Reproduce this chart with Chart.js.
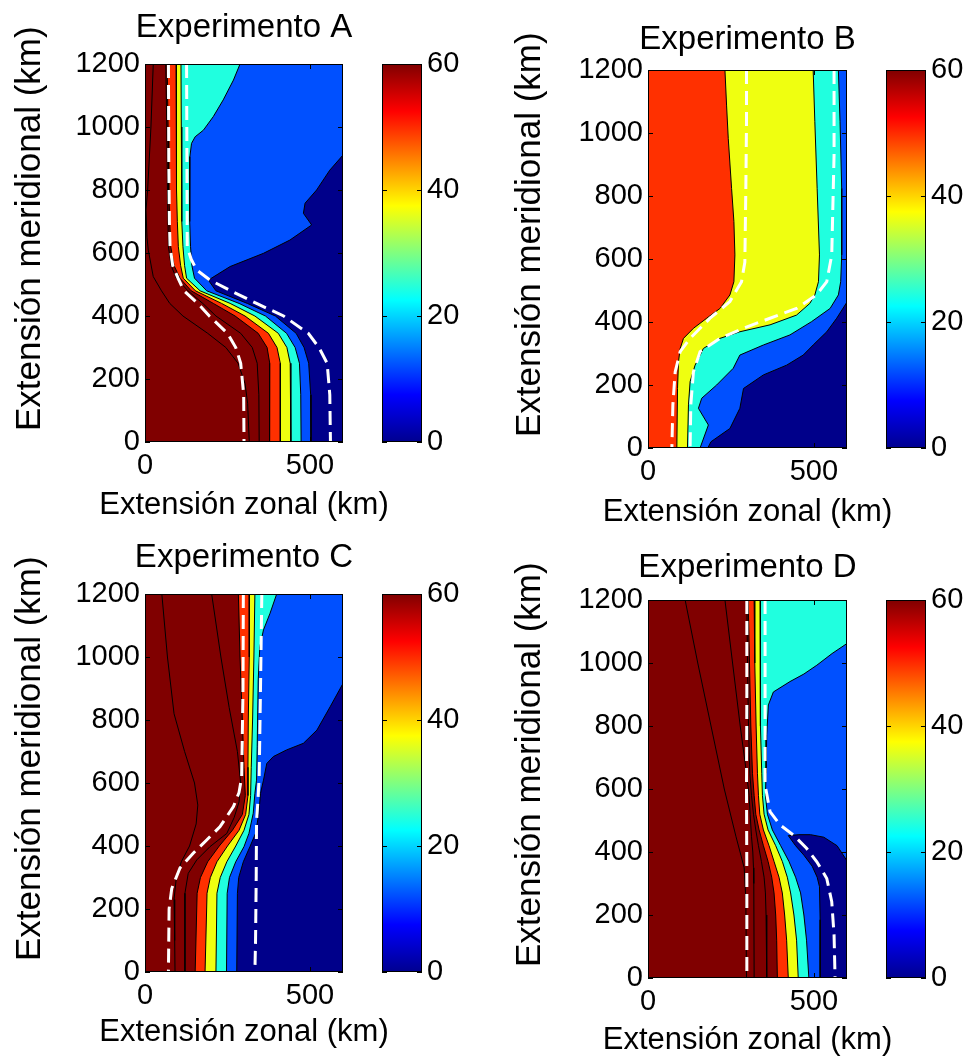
<!DOCTYPE html>
<html>
<head>
    <title>Experimentos A-D</title>
    <script src="https://cdn.jsdelivr.net/npm/chart.js"></script>
    <style>
        body { margin: 0; background: #fff; overflow: hidden; }
        canvas { position: absolute; }
    </style>
</head>
<body>

<canvas id="cA" width="488" height="528"></canvas>
<canvas id="bA" width="110" height="430"></canvas>
<canvas id="cB" width="495" height="535"></canvas>
<canvas id="bB" width="110" height="430"></canvas>
<canvas id="cC" width="488" height="535"></canvas>
<canvas id="bC" width="110" height="430"></canvas>
<canvas id="cD" width="495" height="537"></canvas>
<canvas id="bD" width="110" height="430"></canvas>

<script>
// tick values
var X_TICKS = [0, 500];
var Y_TICKS = [0, 200, 400, 600, 800, 1000, 1200];
var CBAR_TICKS = [0, 20, 40, 60];

// contour fill colours (6 levels of jet)
var COL_DKRED = "rgb(128,0,0)";
var COL_RED = "rgb(255,48,0)";
var COL_YEL = "rgb(239,255,16)";
var COL_CYAN = "rgb(32,255,223)";
var COL_BLUE = "rgb(0,80,255)";
var COL_NAVY = "rgb(0,0,138)";

// jet colormap for the colour bars
var JET_STOPS = [0, 0.125, 0.375, 0.625, 0.875, 1];
var JET_COLORS = ["rgb(0,0,143)", "rgb(0,0,255)", "rgb(0,255,255)", "rgb(255,255,0)", "rgb(255,0,0)", "rgb(128,0,0)"];

// ---- Experimento A : contour boundaries [x km, y km], region on the right side has the colour
var A_L1 = [[25,1200],[18,1000],[8,800],[3,736],[6,650],[10,609],[25,525],[50,480],[75,440],[115,400],[190,345],[245,300],[282,250],[303,186],[311,123],[316,0]];
var A_L2 = [[63,1200],[66,1000],[68,800],[71,620],[79,560],[95,520],[130,480],[175,440],[215,400],[290,345],[325,300],[340,250],[345,150],[346,0]];
var A_ORANGE = [[67,1200],[70,1000],[72,800],[75,700],[78,620],[88,560],[106,520],[140,480],[207,440],[273,400],[343,345],[370,300],[378,250],[378,150],[377,0]];
var A_YELLOW = [[94,1200],[95,1000],[96,800],[98,700],[101,620],[108,560],[116,520],[153,480],[232,440],[303,400],[374,345],[400,300],[410,250],[410,150],[410,0]];
var A_CYAN = [[109,1200],[110,1000],[111,800],[112,700],[115,620],[120,560],[126,520],[167,480],[258,440],[333,400],[404,345],[430,300],[440,250],[442,150],[442,0]];
var A_BLUE = [[288,1200],[268,1149],[237,1086],[207,1033],[177,990],[152,969],[141,948],[136,906],[135,800],[136,700],[138,620],[142,560],[150,520],[187,480],[285,440],[365,400],[429,345],[455,300],[468,250],[472,150],[473,0]];
var A_NAVY = [[600,911],[560,863],[520,800],[485,758],[480,726],[505,689],[439,641],[359,599],[258,557],[192,514],[215,480],[310,440],[395,400],[458,345],[482,300],[496,250],[502,150],[503,0]];
var A_DASH1 = [[71,1200],[72,900],[74,700],[76,620],[84,560],[100,520],[118,480],[160,440],[195,400],[250,345],[275,300],[290,250],[299,150],[300,0]];
var A_DASH2 = [[126,1200],[127,900],[128,620],[140,580],[157,546],[197,514],[260,480],[338,440],[420,400],[495,345],[527,300],[552,250],[560,150],[562,0]];

// ---- Experimento B
var B_YELLOW = [[232,1200],[237,1086],[242,983],[252,824],[259,719],[262,613],[259,528],[247,486],[217,443],[177,412],[137,380],[107,348],[97,316],[92,274],[89,189],[87,0]];
var B_CYAN = [[498,1200],[503,1036],[510,824],[517,613],[514,528],[503,486],[488,459],[448,422],[368,391],[277,369],[217,348],[167,316],[142,263],[127,211],[122,137],[119,0]];
var B_BLUE = [[574,1200],[579,1036],[584,824],[584,613],[581,528],[574,486],[549,443],[493,401],[428,359],[348,327],[277,295],[257,253],[207,200],[162,158],[152,126],[182,73],[157,0]];
var B_NAVY = [[601,465],[569,412],[539,369],[498,327],[468,295],[418,263],[348,232],[288,189],[277,126],[247,62],[190,20],[180,0]];
var B_DASH1 = [[297,1200],[297,1036],[295,824],[292,590],[282,528],[247,465],[187,412],[127,348],[97,306],[82,242],[75,137],[72,0]];
var B_DASH2 = [[561,1200],[561,931],[554,613],[539,528],[508,486],[448,443],[368,412],[287,380],[217,348],[157,306],[137,242],[129,137],[127,0]];

// ---- Experimento C
var C_L1 = [[51,1200],[68,1000],[88,820],[120,700],[150,600],[160,530],[155,470],[135,400],[110,350],[95,300],[88,230],[90,100],[91,0]];
var C_L2 = [[202,1200],[230,1000],[255,840],[280,700],[290,600],[285,540],[270,490],[248,440],[197,398],[157,356],[131,313],[121,250],[121,0]];
var C_ORANGE = [[283,1200],[288,1000],[295,800],[300,650],[304,560],[295,500],[265,450],[225,400],[190,350],[168,300],[158,250],[152,0]];
var C_YELLOW = [[316,1200],[316,1000],[313,800],[312,650],[312,560],[305,500],[285,450],[250,400],[218,350],[198,300],[188,250],[182,0]];
var C_CYAN = [[333,1200],[330,1000],[326,800],[322,650],[320,560],[315,500],[300,450],[275,400],[248,350],[228,300],[218,250],[215,0]];
var C_BLUE = [[399,1200],[379,1139],[359,1086],[348,1033],[343,927],[340,715],[338,609],[333,567],[328,504],[315,440],[300,398],[275,350],[256,300],[249,250],[247,0]];
var C_NAVY = [[600,916],[561,842],[521,768],[480,726],[429,705],[389,684],[369,662],[359,609],[350,567],[345,504],[335,440],[318,398],[298,350],[284,300],[280,250],[278,0]];
var C_DASH1 = [[298,1200],[297,900],[293,620],[285,570],[268,525],[227,461],[187,419],[146,377],[106,330],[81,265],[73,200],[71,0]];
var C_DASH2 = [[354,1200],[350,900],[346,620],[342,540],[338,480],[337,300],[335,100],[333,0]];

// ---- Experimento D
var D_L1 = [[112,1200],[150,1000],[190,800],[230,600],[265,450],[290,350],[295,250],[297,0]];
var D_L2 = [[232,1200],[255,1000],[278,800],[297,650],[305,580],[308,520],[312,450],[316,400],[318,350],[319,300],[320,0]];
var D_L3 = [[298,1200],[300,1000],[303,800],[307,650],[312,580],[318,520],[325,470],[333,420],[342,370],[350,320],[354,270],[356,200],[358,0]];
var D_ORANGE = [[302,1200],[306,1000],[310,800],[315,650],[320,580],[325,520],[335,470],[348,420],[362,370],[373,320],[380,270],[385,200],[388,120],[390,0]];
var D_YELLOW = [[320,1200],[322,1000],[326,800],[330,650],[333,580],[337,520],[348,470],[365,420],[380,370],[395,320],[405,270],[412,200],[418,120],[423,0]];
var D_CYAN = [[338,1200],[338,1000],[340,800],[343,650],[345,580],[350,520],[362,470],[385,420],[405,370],[420,320],[430,270],[440,200],[448,120],[453,0]];
var D_BLUE = [[600,1062],[555,1030],[509,993],[470,965],[428,941],[378,908],[363,867],[358,772],[356,650],[354,580],[360,520],[375,470],[400,420],[425,370],[445,320],[460,270],[470,200],[478,120],[485,0]];
var D_NAVY = [[600,372],[570,420],[530,447],[490,455],[455,455],[423,452],[445,420],[470,390],[495,355],[510,320],[517,290],[519,185],[519,0]];
var D_DASH1 = [[298,1200],[298,900],[297,600],[298,300],[298,0]];
var D_DASH2 = [[353,1200],[353,900],[353,613],[368,528],[398,486],[438,454],[478,412],[509,369],[539,316],[554,242],[561,137],[564,0]];

var FULL = [[0,1200],[0,0]];

Chart.defaults.font.family = "'Liberation Sans', Arial, Helvetica, sans-serif";
Chart.defaults.color = "#000";

function toXY(points) {
    return points.map(function (p) { return { x: p[0], y: p[1] }; });
}

// filled region to the right of a boundary, closed along the right edge
function regionSet(points, color, edge) {
    return {
        data: toXY(points.concat([[600, 0], [600, 1200]])),
        fill: "shape",
        backgroundColor: color,
        borderColor: "#000",
        borderWidth: edge === false ? 0 : 1,
        pointRadius: 0,
        tension: 0
    };
}

function dashSet(points) {
    return {
        data: toXY(points),
        fill: false,
        borderColor: "#fff",
        borderWidth: 3,
        borderDash: [14, 7],
        pointRadius: 0,
        tension: 0
    };
}

// frame around the plot plus inward tick marks (matlab style)
var framePlugin = {
    id: "frame",
    afterDatasetsDraw: function (chart) {
        var ctx = chart.ctx, a = chart.chartArea;
        ctx.save();
        ctx.strokeStyle = "#000";
        ctx.lineWidth = 1;
        ctx.beginPath();
        Object.keys(chart.scales).forEach(function (id) {
            var s = chart.scales[id];
            if (s.options.display === false || id === "spacer") return;
            s.ticks.forEach(function (t) {
                var p = Math.round(s.getPixelForValue(t.value)) + 0.5;
                if (s.isHorizontal()) {
                    ctx.moveTo(p, a.bottom); ctx.lineTo(p, a.bottom - 5);
                    ctx.moveTo(p, a.top); ctx.lineTo(p, a.top + 5);
                } else {
                    ctx.moveTo(a.left, p); ctx.lineTo(a.left + 5, p);
                    ctx.moveTo(a.right, p); ctx.lineTo(a.right - 5, p);
                }
            });
        });
        ctx.stroke();
        ctx.strokeRect(Math.round(a.left) + 0.5, Math.round(a.top) + 0.5, Math.round(a.width) - 1, Math.round(a.height) - 1);
        ctx.restore();
    }
};

function jetGradient(context) {
    var chart = context.chart;
    var area = chart.chartArea;
    if (!area) return null;
    var g = chart.ctx.createLinearGradient(0, area.bottom, 0, area.top);
    JET_STOPS.forEach(function (s, i) { g.addColorStop(s, JET_COLORS[i]); });
    return g;
}

function place(id, left, top) {
    var el = document.getElementById(id);
    el.style.left = left + "px";
    el.style.top = top + "px";
    return el;
}

function plainTick(v) { return String(v); }

function makePanel(p) {
    var el = place(p.id, p.left, p.top);
    var yWidth = p.plot.l - p.left;
    var padRight = p.left + el.width - p.plot.r;
    var titleSize = 33, titleLH = titleSize * 1.2;
    var labSize = 31, labLH = labSize * 1.2;
    var titleTop = p.titleY - p.top - titleLH / 2;
    var titleBottom = (p.plot.t - p.top) - titleTop - titleLH;
    var subBottom = (p.top + el.height) - p.xTitleY - labLH / 2;
    var xHeight = (p.top + el.height) - p.plot.b - (labLH + subBottom);

    var datasets = p.regions.map(function (r) { return regionSet(r[0], r[1], r[2]); })
        .concat(p.dashes.map(dashSet));
    var n = datasets.length;
    datasets.forEach(function (d, i) { d.order = n - i; });

    new Chart(el, {
        type: "line",
        data: { datasets: datasets },
        options: {
            responsive: false,
            animation: false,
            events: [],
            layout: { padding: 0 },
            plugins: {
                legend: { display: false },
                tooltip: { enabled: false },
                title: {
                    display: true,
                    text: p.title,
                    font: { size: titleSize, weight: "normal", lineHeight: 1.2 },
                    padding: { top: titleTop, bottom: titleBottom }
                },
                subtitle: {
                    display: true,
                    position: "bottom",
                    text: "Extensión zonal (km)",
                    font: { size: labSize, weight: "normal", lineHeight: 1.2 },
                    padding: { top: 0, bottom: subBottom }
                }
            },
            scales: {
                x: {
                    type: "linear",
                    min: 0,
                    max: 600,
                    afterBuildTicks: function (s) { s.ticks = X_TICKS.map(function (v) { return { value: v }; }); },
                    ticks: { font: { size: 29 }, padding: 7, maxRotation: 0, callback: plainTick },
                    grid: { display: false, drawTicks: false },
                    border: { display: false },
                    afterFit: function (s) { s.height = xHeight; }
                },
                y: {
                    type: "linear",
                    min: 0,
                    max: 1200,
                    afterBuildTicks: function (s) { s.ticks = Y_TICKS.map(function (v) { return { value: v }; }); },
                    ticks: { font: { size: 29 }, padding: 5, callback: plainTick },
                    grid: { display: false, drawTicks: false },
                    border: { display: false },
                    // leading spaces lift the label a little, as in the original figure
                    title: { display: true, text: "     Extensión meridional (km)", font: { size: 35 }, padding: { top: 9, bottom: 0 } },
                    afterFit: function (s) { s.width = yWidth; }
                },
                // empty right-hand axis that keeps room for the colour bar
                spacer: {
                    type: "linear",
                    position: "right",
                    ticks: { display: false },
                    grid: { display: false, drawTicks: false },
                    border: { display: false },
                    afterFit: function (s) { s.width = padRight; }
                }
            }
        },
        plugins: [framePlugin]
    });

    // colour bar
    var cb = place(p.cbar, p.plot.r + 27, p.plot.t - 24);
    cb.height = p.plot.b - p.plot.t + 52;
    new Chart(cb, {
        type: "bar",
        data: {
            labels: [""],
            datasets: [{
                data: [[0, 60]],
                backgroundColor: jetGradient,
                borderWidth: 0,
                barPercentage: 1,
                categoryPercentage: 1
            }]
        },
        options: {
            responsive: false,
            animation: false,
            events: [],
            layout: { padding: { left: 12, right: 0, top: 24, bottom: 28 } },
            plugins: { legend: { display: false }, tooltip: { enabled: false } },
            scales: {
                x: { display: false },
                y: {
                    position: "right",
                    min: 0,
                    max: 60,
                    afterBuildTicks: function (s) { s.ticks = CBAR_TICKS.map(function (v) { return { value: v }; }); },
                    ticks: { font: { size: 29 }, padding: 5, callback: plainTick },
                    grid: { display: false, drawTicks: false },
                    border: { display: false },
                    afterFit: function (s) { s.width = 58; }
                }
            }
        },
        plugins: [framePlugin]
    });
}

makePanel({
    id: "cA", cbar: "bA", title: "Experimento A", left: 0, top: 0,
    plot: { l: 145, t: 64, r: 343, b: 442 }, titleY: 28, xTitleY: 505,
    regions: [[FULL, COL_DKRED, false], [A_L1, COL_DKRED], [A_L2, COL_DKRED], [A_ORANGE, COL_RED], [A_YELLOW, COL_YEL],
              [A_CYAN, COL_CYAN], [A_BLUE, COL_BLUE], [A_NAVY, COL_NAVY]],
    dashes: [A_DASH1, A_DASH2]
});

makePanel({
    id: "cB", cbar: "bB", title: "Experimento B", left: 500, top: 0,
    plot: { l: 648, t: 70, r: 847, b: 448 }, titleY: 40, xTitleY: 512,
    regions: [[FULL, COL_RED, false], [B_YELLOW, COL_YEL], [B_CYAN, COL_CYAN], [B_BLUE, COL_BLUE], [B_NAVY, COL_NAVY]],
    dashes: [B_DASH1, B_DASH2]
});

makePanel({
    id: "cC", cbar: "bC", title: "Experimento C", left: 0, top: 520,
    plot: { l: 145, t: 594, r: 343, b: 972 }, titleY: 558, xTitleY: 1032,
    regions: [[FULL, COL_DKRED, false], [C_L1, COL_DKRED], [C_L2, COL_DKRED], [C_ORANGE, COL_RED], [C_YELLOW, COL_YEL],
              [C_CYAN, COL_CYAN], [C_BLUE, COL_BLUE], [C_NAVY, COL_NAVY]],
    dashes: [C_DASH1, C_DASH2]
});

makePanel({
    id: "cD", cbar: "bD", title: "Experimento D", left: 500, top: 525,
    plot: { l: 648, t: 600, r: 847, b: 978 }, titleY: 568, xTitleY: 1040,
    regions: [[FULL, COL_DKRED, false], [D_L1, COL_DKRED], [D_L2, COL_DKRED], [D_L3, COL_DKRED], [D_ORANGE, COL_RED],
              [D_YELLOW, COL_YEL], [D_CYAN, COL_CYAN], [D_BLUE, COL_BLUE], [D_NAVY, COL_NAVY]],
    dashes: [D_DASH1, D_DASH2]
});
</script>

</body>
</html>
